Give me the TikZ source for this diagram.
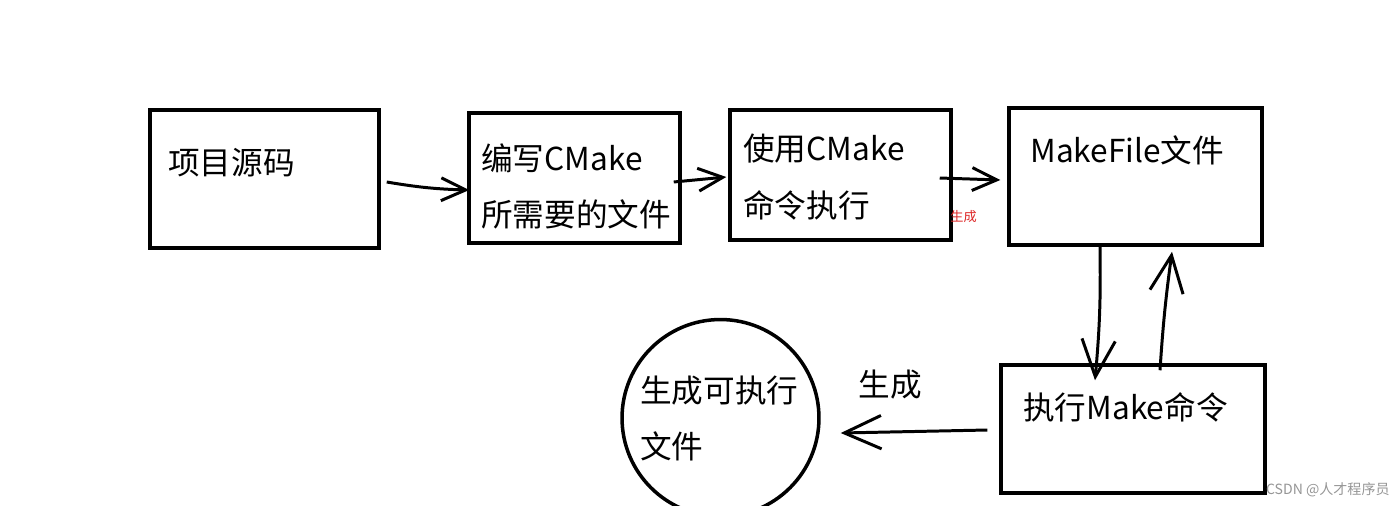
\documentclass[tikz,border=0pt]{standalone}
\usepackage{fontspec}
\setmainfont{Noto Sans CJK SC}
\usetikzlibrary{arrows.meta,calc}
\definecolor{labelred}{RGB}{222,40,40}
\definecolor{markgray}{RGB}{150,150,150}

\begin{document}
\begin{tikzpicture}[x=0.02cm,y=-0.02cm,font=\fontsize{18}{32}\selectfont,
    box/.style={draw,line width=2pt,inner sep=0pt},
    txt/.style={anchor=west,inner sep=0pt,align=left},
    arr/.style={line width=1.7pt,-{Straight Barb[length=14pt,width=13pt,line width=1.7pt]}},
    bigarr/.style={line width=1.7pt,-{Straight Barb[length=21pt,width=19pt,line width=1.7pt]}}]
    \useasboundingbox[fill=white] (0,0) rectangle (1400,505);
    % boxes
    \node[box,minimum width=4.58cm,minimum height=2.76cm] (src) at (264.5,179) {};
    \node[box,minimum width=4.22cm,minimum height=2.6cm] (write) at (574.5,178) {};
    \node[box,minimum width=4.42cm,minimum height=2.6cm] (run) at (840.5,175) {};
    \node[box,minimum width=5.06cm,minimum height=2.74cm] (mkfile) at (1135.5,176.5) {};
    \node[box,minimum width=5.28cm,minimum height=2.56cm] (make) at (1133,429) {};
    \node[box,circle,minimum size=3.94cm] (exe) at (720.5,418) {};
    % texts
    \node[txt] (srctxt) at (168,163) {项目源码};
    \node[txt] (writetxt) at (481,186.5) {编写CMake\\所需要的文件};
    \node[txt] (runtxt) at (743,177) {使用CMake\\命令执行};
    \node[txt] (mkfiletxt) at (1030,150) {MakeFile文件};
    \node[txt] (maketxt) at (1023,407) {执行Make命令};
    \node[txt] (exetxt) at (640,418.5) {生成可执行\\文件};
    \node[inner sep=0pt] (gen) at (890,385) {生成};
    \node[txt,font=\fontsize{7.5}{9}\selectfont,text=labelred] (genred) at (950,217) {生成};
    \node[anchor=east,inner sep=0pt,font=\fontsize{8}{10}\selectfont,text=markgray]
      (mark) at (1390,490) {CSDN @人才程序员};
    % arrows
    \draw[arr] ($(src.east)+(6,3)$) to[bend right=4] ($(write.west)+(2,12)$);
    \draw[arr] ($(write.east)+(-8,4)$) -- ($(run.west)+(-2,2)$);
    \draw[arr] ($(run.east)+(-13,3)$) -- ($(mkfile.west)+(-7,3.5)$);
    \draw[bigarr] ($(mkfile.south)+(-35.5,0)$) to[bend left=3] ($(make.north)+(-38,17)$);
    \draw[bigarr] ($(make.north)+(27,7)$) to[bend left=2] ($(mkfile.south)+(36.5,5)$);
    \draw[bigarr] ($(make.west)+(-12,1)$) -- ($(exe.east)+(20,15)$);
\end{tikzpicture}
\end{document}
